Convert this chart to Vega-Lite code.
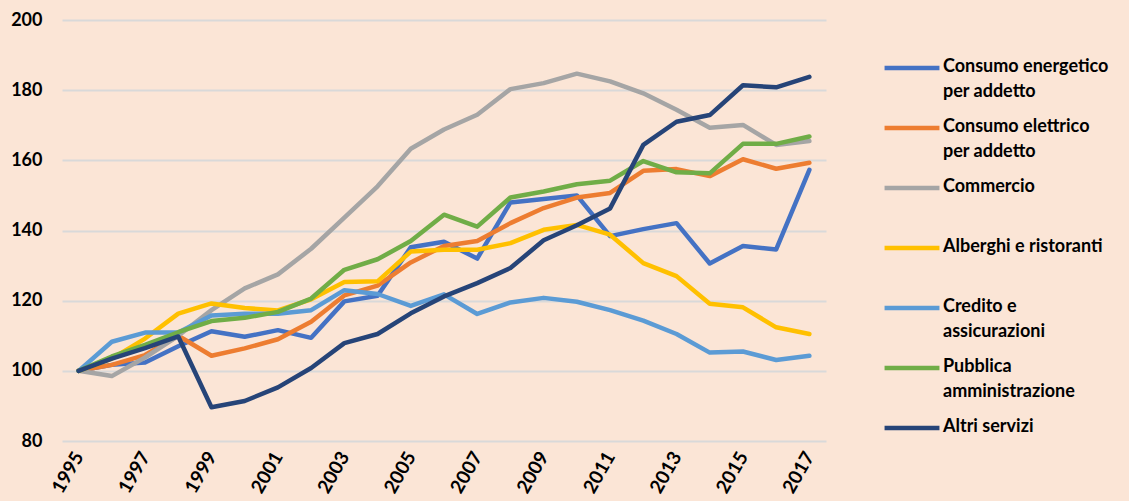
{
  "$schema": "https://vega.github.io/schema/vega-lite/v6.json",
  "width": 764,
  "height": 421,
  "autosize": "none",
  "padding": {"left": 62, "top": 20, "right": 303, "bottom": 60},
  "background": "#FBE5D6",
  "data": {
    "values": [
      {"year": 1995, "Consumo energetico per addetto": 100, "Consumo elettrico per addetto": 100, "Commercio": 100, "Alberghi e ristoranti": 100, "Credito e assicurazioni": 100, "Pubblica amministrazione": 100, "Altri servizi": 100},
      {"year": 1996, "Consumo energetico per addetto": 101.7, "Consumo elettrico per addetto": 101.7, "Commercio": 98.5, "Alberghi e ristoranti": 103.5, "Credito e assicurazioni": 108.3, "Pubblica amministrazione": 104.1, "Altri servizi": 103.5},
      {"year": 1997, "Consumo energetico per addetto": 102.4, "Consumo elettrico per addetto": 104.5, "Commercio": 103.8, "Alberghi e ristoranti": 109.2, "Credito e assicurazioni": 110.9, "Pubblica amministrazione": 107.4, "Altri servizi": 106.5},
      {"year": 1998, "Consumo energetico per addetto": 107, "Consumo elettrico per addetto": 110, "Commercio": 110, "Alberghi e ristoranti": 116.3, "Credito e assicurazioni": 110.9, "Pubblica amministrazione": 111, "Altri servizi": 109.8},
      {"year": 1999, "Consumo energetico per addetto": 111.3, "Consumo elettrico per addetto": 104.3, "Commercio": 117.3, "Alberghi e ristoranti": 119.2, "Credito e assicurazioni": 115.8, "Pubblica amministrazione": 114.2, "Altri servizi": 89.6},
      {"year": 2000, "Consumo energetico per addetto": 109.7, "Consumo elettrico per addetto": 106.4, "Commercio": 123.5, "Alberghi e ristoranti": 117.9, "Credito e assicurazioni": 116.3, "Pubblica amministrazione": 115.1, "Altri servizi": 91.4},
      {"year": 2001, "Consumo energetico per addetto": 111.6, "Consumo elettrico per addetto": 109, "Commercio": 127.5, "Alberghi e ristoranti": 117.2, "Credito e assicurazioni": 116.3, "Pubblica amministrazione": 116.8, "Altri servizi": 95.3},
      {"year": 2002, "Consumo energetico per addetto": 109.4, "Consumo elettrico per addetto": 114, "Commercio": 134.8, "Alberghi e ristoranti": 120.4, "Credito e assicurazioni": 117.3, "Pubblica amministrazione": 120.6, "Altri servizi": 100.8},
      {"year": 2003, "Consumo energetico per addetto": 119.8, "Consumo elettrico per addetto": 121.5, "Commercio": 143.7, "Alberghi e ristoranti": 125.3, "Credito e assicurazioni": 123, "Pubblica amministrazione": 128.8, "Altri servizi": 107.9},
      {"year": 2004, "Consumo energetico per addetto": 121.4, "Consumo elettrico per addetto": 124.3, "Commercio": 152.6, "Alberghi e ristoranti": 125.5, "Credito e assicurazioni": 121.9, "Pubblica amministrazione": 131.8, "Altri servizi": 110.5},
      {"year": 2005, "Consumo energetico per addetto": 135.2, "Consumo elettrico per addetto": 130.9, "Commercio": 163.3, "Alberghi e ristoranti": 134, "Credito e assicurazioni": 118.5, "Pubblica amministrazione": 137, "Altri servizi": 116.4},
      {"year": 2006, "Consumo energetico per addetto": 136.8, "Consumo elettrico per addetto": 135.6, "Commercio": 168.8, "Alberghi e ristoranti": 134.5, "Credito e assicurazioni": 121.8, "Pubblica amministrazione": 144.5, "Altri servizi": 121.2},
      {"year": 2007, "Consumo energetico per addetto": 132, "Consumo elettrico per addetto": 137, "Commercio": 173, "Alberghi e ristoranti": 134.5, "Credito e assicurazioni": 116.2, "Pubblica amministrazione": 141.1, "Altri servizi": 125},
      {"year": 2008, "Consumo energetico per addetto": 148, "Consumo elettrico per addetto": 142.1, "Commercio": 180.3, "Alberghi e ristoranti": 136.4, "Credito e assicurazioni": 119.5, "Pubblica amministrazione": 149.4, "Altri servizi": 129.3},
      {"year": 2009, "Consumo energetico per addetto": 149, "Consumo elettrico per addetto": 146.4, "Commercio": 182, "Alberghi e ristoranti": 140.2, "Credito e assicurazioni": 120.8, "Pubblica amministrazione": 151.1, "Altri servizi": 137.2},
      {"year": 2010, "Consumo energetico per addetto": 150, "Consumo elettrico per addetto": 149.4, "Commercio": 184.7, "Alberghi e ristoranti": 141.6, "Credito e assicurazioni": 119.7, "Pubblica amministrazione": 153.2, "Altri servizi": 141.5},
      {"year": 2011, "Consumo energetico per addetto": 138.4, "Consumo elettrico per addetto": 150.7, "Commercio": 182.5, "Alberghi e ristoranti": 138.8, "Credito e assicurazioni": 117.3, "Pubblica amministrazione": 154.2, "Altri servizi": 146.3},
      {"year": 2012, "Consumo energetico per addetto": 140.4, "Consumo elettrico per addetto": 157, "Commercio": 179.1, "Alberghi e ristoranti": 130.7, "Credito e assicurazioni": 114.3, "Pubblica amministrazione": 159.8, "Altri servizi": 164.4},
      {"year": 2013, "Consumo energetico per addetto": 142.1, "Consumo elettrico per addetto": 157.5, "Commercio": 174.4, "Alberghi e ristoranti": 127, "Credito e assicurazioni": 110.5, "Pubblica amministrazione": 156.6, "Altri servizi": 171},
      {"year": 2014, "Consumo energetico per addetto": 130.6, "Consumo elettrico per addetto": 155.5, "Commercio": 169.3, "Alberghi e ristoranti": 119.1, "Credito e assicurazioni": 105.2, "Pubblica amministrazione": 156.3, "Altri servizi": 172.9},
      {"year": 2015, "Consumo energetico per addetto": 135.6, "Consumo elettrico per addetto": 160.3, "Commercio": 170.1, "Alberghi e ristoranti": 118.1, "Credito e assicurazioni": 105.5, "Pubblica amministrazione": 164.7, "Altri servizi": 181.4},
      {"year": 2016, "Consumo energetico per addetto": 134.6, "Consumo elettrico per addetto": 157.6, "Commercio": 164.4, "Alberghi e ristoranti": 112.4, "Credito e assicurazioni": 103.1, "Pubblica amministrazione": 164.7, "Altri servizi": 180.8},
      {"year": 2017, "Consumo energetico per addetto": 157.3, "Consumo elettrico per addetto": 159.3, "Commercio": 165.5, "Alberghi e ristoranti": 110.5, "Credito e assicurazioni": 104.3, "Pubblica amministrazione": 166.8, "Altri servizi": 183.8}
    ]
  },
  "transform": [
    {"fold": ["Consumo energetico per addetto", "Consumo elettrico per addetto", "Commercio", "Alberghi e ristoranti", "Credito e assicurazioni", "Pubblica amministrazione", "Altri servizi"], "as": ["serie", "v"]}
  ],
  "mark": {"type": "line", "strokeWidth": 4.5, "strokeCap": "round", "strokeJoin": "round"},
  "encoding": {
    "x": {
      "field": "year",
      "type": "quantitative",
      "scale": {"domain": [1994.5, 2017.5], "nice": false, "zero": false},
      "axis": {
        "title": null,
        "values": [1995, 1997, 1999, 2001, 2003, 2005, 2007, 2009, 2011, 2013, 2015, 2017],
        "format": "d",
        "labelAngle": -60,
        "grid": false,
        "domain": false,
        "ticks": false,
        "labelFont": "Lato",
        "labelFontSize": 19,
        "labelFontWeight": "bold",
        "labelColor": "#000000",
        "labelPadding": 12,
        "labelFlush": false,
        "labelOverlap": false
      }
    },
    "y": {
      "field": "v",
      "type": "quantitative",
      "scale": {"domain": [80, 200], "nice": false, "zero": false},
      "axis": {
        "title": null,
        "values": [80, 100, 120, 140, 160, 180, 200],
        "grid": true,
        "gridColor": "#D9D9D9",
        "gridWidth": 2,
        "domain": false,
        "ticks": false,
        "labelFont": "Lato",
        "labelFontSize": 18,
        "labelFontWeight": "bold",
        "labelColor": "#000000",
        "labelPadding": 20
      }
    },
    "color": {
      "field": "serie",
      "type": "nominal",
      "scale": {
        "domain": ["Consumo energetico per addetto", "Consumo elettrico per addetto", "Commercio", "Alberghi e ristoranti", "Credito e assicurazioni", "Pubblica amministrazione", "Altri servizi"],
        "range": ["#4472C4", "#ED7D31", "#A5A5A5", "#FFC000", "#5B9BD5", "#70AD47", "#264478"]
      },
      "legend": {
        "title": null,
        "orient": "none",
        "legendX": 823,
        "legendY": 21,
        "symbolType": "M-1.12,0H1.12",
        "symbolSize": 2401,
        "symbolStrokeWidth": 4.5,
        "labelFont": "Lato",
        "labelFontSize": 18,
        "labelFontWeight": "bold",
        "labelColor": "#000000",
        "labelLimit": 300,
        "labelOffset": 4,
        "rowPadding": 0,
        "gridAlign": "all",
        "labelBaseline": "top",
        "labelExpr": "datum.label == 'Consumo energetico per addetto' ? ['Consumo energetico', 'per addetto'] : datum.label == 'Consumo elettrico per addetto' ? ['Consumo elettrico', 'per addetto'] : datum.label == 'Credito e assicurazioni' ? ['Credito e', 'assicurazioni'] : datum.label == 'Pubblica amministrazione' ? ['Pubblica', 'amministrazione'] : datum.label",
        "encode": {"labels": {"update": {"lineHeight": {"value": 25}, "dy": {"value": -10}}}}
      }
    }
  },
  "config": {"view": {"stroke": null}, "font": "Lato"}
}
